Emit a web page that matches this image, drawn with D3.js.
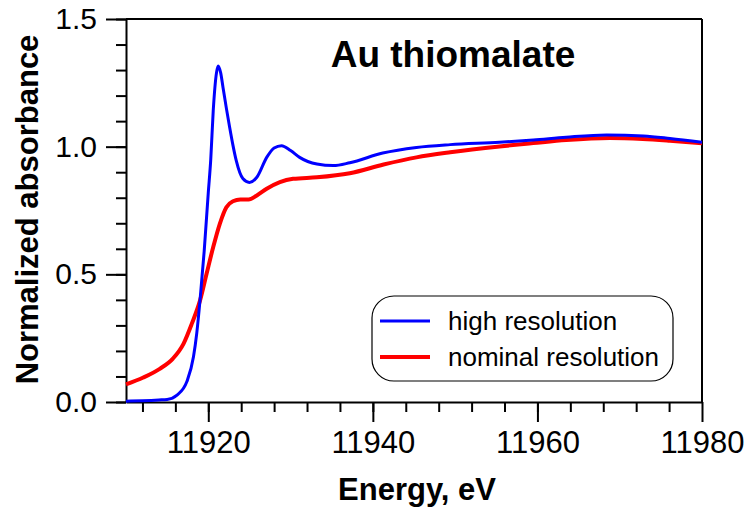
<!DOCTYPE html>
<html lang="en">
<head>
    <meta charset="UTF-8">
    <title>Au thiomalate XANES</title>
    <script src="https://d3js.org/d3.v7.min.js"></script>
    <style>
        body { margin: 0; background: white; }
        text { font-family: Arial, "Liberation Sans", sans-serif; fill: black; }
        .axis path, .axis line { stroke: black; stroke-width: 2; }
        .axis text { font-size: 30px; }
        .xaxis text { font-size: 31px; }
        .ttl { font-weight: bold; }
    </style>
</head>
<body>
<script>
    // Data (energy in eV, normalized absorbance)
    const highE = [11910, 11912, 11914, 11915, 11916.2, 11917.4, 11918.2, 11918.6, 11919, 11919.5, 11920, 11920.3,
        11920.6, 11921, 11921.2, 11921.5, 11921.8, 11922.2, 11922.6, 11923, 11923.4, 11924.2, 11925, 11925.9,
        11927.1, 11928, 11928.9, 11930, 11931.1, 11933.2, 11935.2, 11937.2, 11941.2, 11945.3, 11949.4, 11955.4,
        11959.5, 11963.5, 11968.4, 11972.9, 11976.1, 11980];
    const highMu = [0.003, 0.005, 0.008, 0.01, 0.027, 0.08, 0.177, 0.27, 0.40, 0.59, 0.82, 0.95,
        1.14, 1.29, 1.316, 1.29, 1.23, 1.15, 1.075, 1.005, 0.945, 0.875, 0.86, 0.88,
        0.958, 0.995, 1.004, 0.985, 0.958, 0.932, 0.926, 0.937, 0.975, 0.997, 1.008, 1.017,
        1.026, 1.037, 1.046, 1.042, 1.032, 1.017];

    const nomE = [11910, 11912.1, 11914.1, 11915.7, 11917, 11918, 11919, 11919.8, 11920.6, 11921.4, 11922.2, 11923,
        11923.9, 11924.9, 11925.9, 11927.1, 11928.7, 11930.3, 11933.2, 11937.2, 11941.3, 11945.3, 11949.4,
        11955.4, 11959.5, 11963.5, 11968.8, 11972.8, 11976.1, 11980];
    const nomMu = [0.069, 0.096, 0.13, 0.17, 0.229, 0.307, 0.398, 0.503, 0.607, 0.698, 0.763, 0.786,
        0.793, 0.793, 0.809, 0.835, 0.861, 0.874, 0.88, 0.896, 0.93, 0.958, 0.978,
        1.001, 1.014, 1.026, 1.034, 1.03, 1.023, 1.013];

    const xTicks = [11920, 11940, 11960, 11980];
    const yTicks = [0.0, 0.5, 1.0, 1.5];
    const seriesNames = ["high resolution", "nominal resolution"];
    const seriesColors = ["#0000ff", "#ff0000"];

    const W = 749, H = 509;
    const margin = {top: 19, right: 47, bottom: 107, left: 126};
    const width = W - margin.left - margin.right;
    const height = H - margin.top - margin.bottom;

    const svg = d3.select("body").append("svg")
        .attr("width", W)
        .attr("height", H);

    const g = svg.append("g")
        .attr("transform", `translate(${margin.left},${margin.top})`);

    const x = d3.scaleLinear().domain([11910, 11980]).range([0, width]);
    const y = d3.scaleLinear().domain([0, 1.5]).range([height, 0]);

    // minor ticks first
    g.append("g")
        .attr("class", "axis")
        .attr("transform", `translate(0,${height})`)
        .call(d3.axisBottom(x).tickValues(d3.range(11912, 11980, 4)).tickSize(10).tickFormat(""))
        .select(".domain").remove();
    g.append("g")
        .attr("class", "axis")
        .call(d3.axisLeft(y).tickValues(d3.range(0, 16).map(i => i / 10)).tickSize(10).tickFormat(""))
        .select(".domain").remove();

    // major ticks with labels
    g.append("g")
        .attr("class", "axis xaxis")
        .attr("transform", `translate(0,${height})`)
        .call(d3.axisBottom(x).tickValues(xTicks).tickSize(20).tickSizeOuter(0).tickPadding(9).tickFormat(d3.format("d")));
    g.append("g")
        .attr("class", "axis")
        .call(d3.axisLeft(y).tickValues(yTicks).tickSize(20).tickSizeOuter(0).tickPadding(9).tickFormat(d3.format(".1f")));

    // frame top and right
    g.append("line").attr("x1", 0).attr("x2", width).attr("y1", 0).attr("y2", 0)
        .attr("stroke", "black").attr("stroke-width", 2);
    g.append("line").attr("x1", width).attr("x2", width).attr("y1", 0).attr("y2", height)
        .attr("stroke", "black").attr("stroke-width", 2);

    const line = d3.line()
        .x(d => x(d[0]))
        .y(d => y(d[1]))
        .curve(d3.curveMonotoneX);

    g.append("path")
        .datum(nomE.map((e, i) => [e, nomMu[i]]))
        .attr("fill", "none")
        .attr("stroke", seriesColors[1])
        .attr("stroke-width", 4)
        .attr("d", line);

    g.append("path")
        .datum(highE.map((e, i) => [e, highMu[i]]))
        .attr("fill", "none")
        .attr("stroke", seriesColors[0])
        .attr("stroke-width", 3)
        .attr("d", line);

    // title
    svg.append("text")
        .attr("class", "ttl")
        .attr("x", 453)
        .attr("y", 67)
        .attr("text-anchor", "middle")
        .style("font-size", "37px")
        .text("Au thiomalate");

    // axis titles
    svg.append("text")
        .attr("class", "ttl")
        .attr("x", margin.left + width / 2 + 3)
        .attr("y", 500)
        .attr("text-anchor", "middle")
        .style("font-size", "31px")
        .text("Energy, eV");

    svg.append("text")
        .attr("class", "ttl")
        .attr("transform", `translate(38,${margin.top + height / 2 - 1}) rotate(-90)`)
        .attr("text-anchor", "middle")
        .style("font-size", "31px")
        .text("Normalized absorbance");

    // legend
    const leg = svg.append("g").attr("transform", "translate(372,296)");
    leg.append("rect")
        .attr("width", 301).attr("height", 85)
        .attr("rx", 22).attr("ry", 22)
        .attr("fill", "white").attr("stroke", "black").attr("stroke-width", 1.2);
    seriesNames.forEach((name, i) => {
        const yy = 25 + i * 36;
        leg.append("line")
            .attr("x1", 8).attr("x2", 58).attr("y1", yy).attr("y2", yy)
            .attr("stroke", seriesColors[i])
            .attr("stroke-width", i === 0 ? 3 : 4);
        leg.append("text")
            .attr("x", 76).attr("y", yy + 9)
            .style("font-size", "26px")
            .text(name);
    });
</script>
</body>
</html>
